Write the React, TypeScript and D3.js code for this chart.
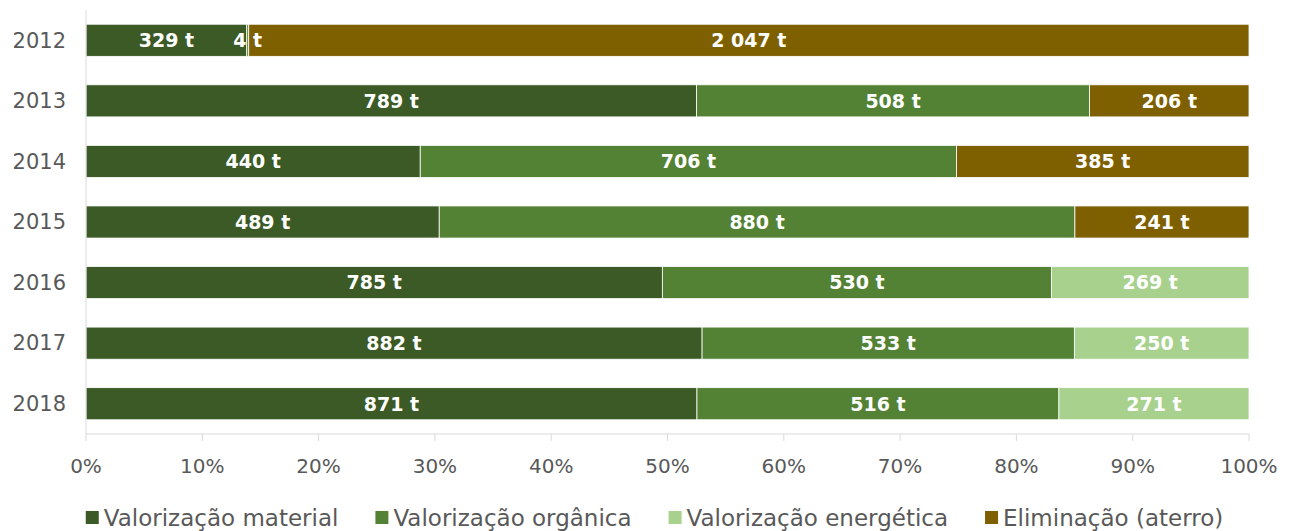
import React, { useRef, useEffect } from 'react';
import * as d3 from 'd3';

// chart data
const years = ['2012', '2013', '2014', '2015', '2016', '2017', '2018'];
const material = [329, 789, 440, 489, 785, 882, 871];
const organica = [4, 508, 706, 880, 530, 533, 516];
const energetica = [0, 0, 0, 0, 269, 250, 271];
const aterro = [2047, 206, 385, 241, 0, 0, 0];

const seriesNames = ['Valorização material', 'Valorização orgânica', 'Valorização energética', 'Eliminação (aterro)'];
const seriesColors = ['#3b5a25', '#548235', '#a9d18e', '#7f6000'];
const ticks = [0, 0.1, 0.2, 0.3, 0.4, 0.5, 0.6, 0.7, 0.8, 0.9, 1];

const W = 1291;
const H = 531;
const FONT = "'DejaVu Sans', sans-serif";

const fmt = (v: number) => d3.format(',')(v).replace(/,/g, ' ') + ' t';

const App = () => {
  const svgRef = useRef<SVGSVGElement | null>(null);

  useEffect(() => {
    if (!svgRef.current) return;
    const svg = d3.select(svgRef.current);
    svg.selectAll('*').remove();

    const left = 86;
    const right = 1249;
    const top = 10;
    const bottom = 434;

    const x = d3.scaleLinear().domain([0, 1]).range([left, right]);
    const y = d3.scaleBand().domain(years).range([top, bottom]).paddingInner(0.47).paddingOuter(0.235);

    const rows = years.map((yr, i) => ({
      year: yr,
      values: [material[i], organica[i], energetica[i], aterro[i]],
    }));

    // bars
    rows.forEach((r) => {
      const total = d3.sum(r.values);
      let acc = 0;
      r.values.forEach((v, s) => {
        if (v <= 0) return;
        const x0 = x(acc / total);
        const x1 = x((acc + v) / total);
        acc += v;
        svg.append('rect')
          .attr('x', x0)
          .attr('y', y(r.year)!)
          .attr('width', Math.max(0, x1 - x0))
          .attr('height', y.bandwidth())
          .attr('fill', seriesColors[s])
          .attr('stroke', '#ffffff')
          .attr('stroke-width', 0.8);
      });
    });

    // labels on bars
    rows.forEach((r) => {
      const total = d3.sum(r.values);
      let acc = 0;
      r.values.forEach((v) => {
        if (v <= 0) return;
        const cx = x((acc + v / 2) / total);
        acc += v;
        svg.append('text')
          .attr('x', cx)
          .attr('y', y(r.year)! + y.bandwidth() / 2)
          .attr('dy', '0.36em')
          .attr('text-anchor', 'middle')
          .attr('fill', '#ffffff')
          .attr('font-family', FONT)
          .attr('font-weight', 'bold')
          .attr('font-size', '19px')
          .text(fmt(v));
      });
    });

    // axes lines
    svg.append('line')
      .attr('x1', left).attr('x2', left)
      .attr('y1', top).attr('y2', bottom)
      .attr('stroke', '#d9d9d9').attr('stroke-width', 1);
    svg.append('line')
      .attr('x1', left).attr('x2', right)
      .attr('y1', bottom).attr('y2', bottom)
      .attr('stroke', '#d9d9d9').attr('stroke-width', 1);

    ticks.forEach((t) => {
      svg.append('line')
        .attr('x1', x(t)).attr('x2', x(t))
        .attr('y1', bottom).attr('y2', bottom + 7)
        .attr('stroke', '#d9d9d9').attr('stroke-width', 1);
      svg.append('text')
        .attr('x', x(t))
        .attr('y', 466)
        .attr('dy', '0.35em')
        .attr('text-anchor', 'middle')
        .attr('fill', '#595959')
        .attr('font-family', FONT)
        .attr('font-size', '20px')
        .text(d3.format('.0%')(t));
    });

    // year labels
    years.forEach((yr) => {
      svg.append('text')
        .attr('x', 66)
        .attr('y', y(yr)! + y.bandwidth() / 2)
        .attr('dy', '0.35em')
        .attr('text-anchor', 'end')
        .attr('fill', '#595959')
        .attr('font-family', FONT)
        .attr('font-size', '21px')
        .text(yr);
    });

    // legend
    const gap = 37;
    const legend = svg.append('g');
    let lx = 0;
    seriesNames.forEach((name, i) => {
      const g = legend.append('g').attr('transform', `translate(${lx},0)`);
      g.append('rect')
        .attr('x', 0).attr('y', 511)
        .attr('width', 13).attr('height', 13)
        .attr('fill', seriesColors[i]);
      const txt = g.append('text')
        .attr('x', 18)
        .attr('y', 518)
        .attr('dy', '0.35em')
        .attr('fill', '#595959')
        .attr('font-family', FONT)
        .attr('font-size', '23px')
        .text(name);
      const w = (txt.node() as SVGTextElement).getComputedTextLength();
      lx += 18 + w + gap;
    });
    const legendW = lx - gap;
    legend.attr('transform', `translate(${(85 + 1224) / 2 - legendW / 2},0)`);
  }, []);

  return (
    <div style={{ position: 'absolute', left: 0, top: 0, width: W, height: H, background: '#ffffff' }}>
      <svg ref={svgRef} width={W} height={H}></svg>
    </div>
  );
};

export default App;
